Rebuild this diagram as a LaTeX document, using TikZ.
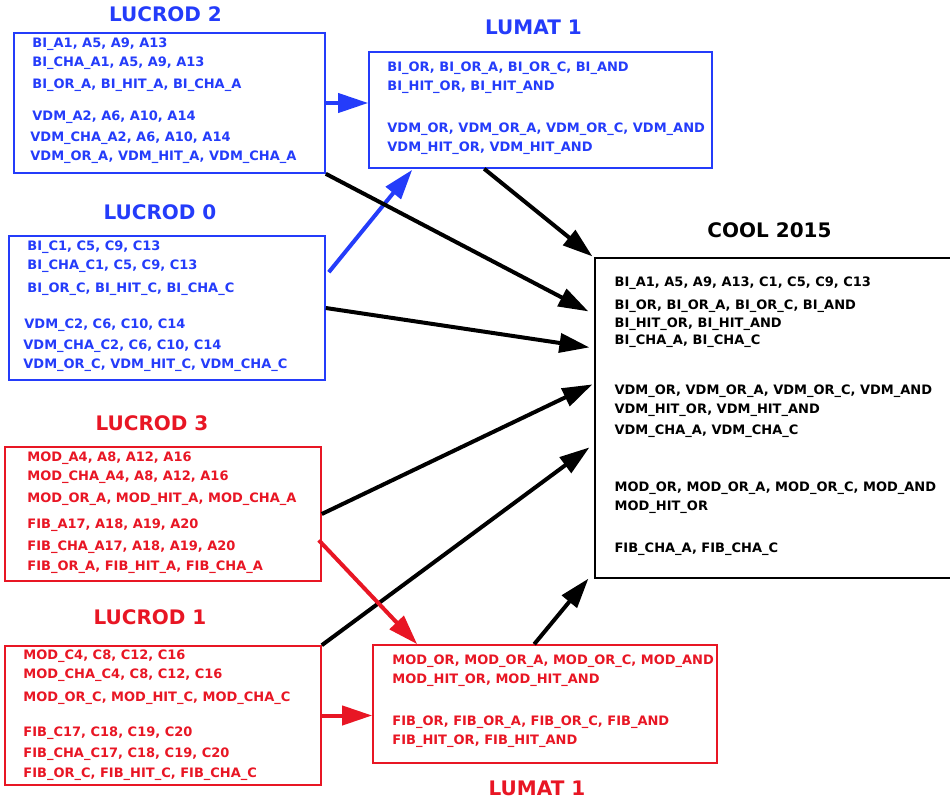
\documentclass[tikz,border=0pt]{standalone}
\usepackage{fontspec}
\setmainfont{DejaVu Sans}
\usetikzlibrary{arrows.meta,positioning,calc}
\definecolor{lublue}{RGB}{36,60,250}
\definecolor{lured}{RGB}{232,22,36}
\begin{document}
\begin{tikzpicture}[x=1pt,y=-1pt,
      font=\bfseries\fontsize{13}{19}\selectfont,
      box/.style={draw,line width=1.6pt,inner sep=0pt},
      bluebox/.style={box,draw=lublue},
      redbox/.style={box,draw=lured},
      coolbox/.style={box,draw=black,line width=1.2pt},
      txt/.style={anchor=north west,align=left,inner sep=0pt},
      title/.style={font=\bfseries\fontsize{20}{24}\selectfont},
      feed/.style={line width=4pt,-{Triangle[length=30pt,width=19pt]}}]
    \useasboundingbox (0,0) rectangle (950,803);
    \node[bluebox,minimum width=311pt,minimum height=140pt] (l2) at (169.5,103) {};
    \node[bluebox,minimum width=343pt,minimum height=116pt] (lm1) at (540.5,110) {};
    \node[bluebox,minimum width=316pt,minimum height=144pt] (l0) at (167,308) {};
    \node[coolbox,minimum width=363pt,minimum height=320pt] (cool) at (776.5,418) {};
    \node[redbox,minimum width=316pt,minimum height=134pt] (l3) at (163,514) {};
    \node[redbox,minimum width=316pt,minimum height=139pt] (l1) at (163,715.5) {};
    \node[redbox,minimum width=344pt,minimum height=118pt] (lm2) at (545,704) {};

    \node[title,text=lublue,above=7pt of l2,xshift=-4pt] (t2) {LUCROD 2};
    \node[title,text=lublue,above=13pt of lm1,xshift=-7pt] (tm1) {LUMAT 1};
    \node[title,text=lublue,above=12pt of l0,xshift=-7pt] (t0) {LUCROD 0};
    \node[title,above=16pt of cool,xshift=-7pt] (tc) {COOL 2015};
    \node[title,text=lured,above=12pt of l3,xshift=-11pt] (t3) {LUCROD 3};
    \node[title,text=lured,above=17pt of l1,xshift=-13pt] (t1) {LUCROD 1};
    \node[title,text=lured,below=14pt of lm2,xshift=-8pt] (tm2) {LUMAT 1};

    \node[txt,text=lublue] (l2t) at ($(l2.north west)+(19,5)$)
      {BI\_A1, A5, A9, A13\\
       BI\_CHA\_A1, A5, A9, A13\\[3pt]
       BI\_OR\_A, BI\_HIT\_A, BI\_CHA\_A\\[13pt]
       VDM\_A2, A6, A10, A14\\[2pt]
       \hspace*{-2pt}VDM\_CHA\_A2, A6, A10, A14\\
       \hspace*{-2pt}VDM\_OR\_A, VDM\_HIT\_A, VDM\_CHA\_A};
    \node[txt,text=lublue] (lm1t) at ($(lm1.north west)+(19,10)$)
      {BI\_OR, BI\_OR\_A, BI\_OR\_C, BI\_AND\\
       BI\_HIT\_OR, BI\_HIT\_AND\\[23pt]
       VDM\_OR, VDM\_OR\_A, VDM\_OR\_C, VDM\_AND\\
       VDM\_HIT\_OR, VDM\_HIT\_AND};
    \node[txt,text=lublue] (l0t) at ($(l0.north west)+(19,5)$)
      {BI\_C1, C5, C9, C13\\
       BI\_CHA\_C1, C5, C9, C13\\[4pt]
       BI\_OR\_C, BI\_HIT\_C, BI\_CHA\_C\\[17pt]
       \hspace*{-3pt}VDM\_C2, C6, C10, C14\\[2pt]
       \hspace*{-4pt}VDM\_CHA\_C2, C6, C10, C14\\
       \hspace*{-4pt}VDM\_OR\_C, VDM\_HIT\_C, VDM\_CHA\_C};
    \node[txt] (coolt) at ($(cool.north west)+(20,19)$)
      {BI\_A1, A5, A9, A13, C1, C5, C9, C13\\[4pt]
       BI\_OR, BI\_OR\_A, BI\_OR\_C, BI\_AND\\[-1pt]
       BI\_HIT\_OR, BI\_HIT\_AND\\[-2pt]
       BI\_CHA\_A, BI\_CHA\_C\\[31pt]
       VDM\_OR, VDM\_OR\_A, VDM\_OR\_C, VDM\_AND\\
       VDM\_HIT\_OR, VDM\_HIT\_AND\\[2pt]
       VDM\_CHA\_A, VDM\_CHA\_C\\[38pt]
       MOD\_OR, MOD\_OR\_A, MOD\_OR\_C, MOD\_AND\\
       MOD\_HIT\_OR\\[23pt]
       FIB\_CHA\_A, FIB\_CHA\_C};
    \node[txt,text=lured] (l3t) at ($(l3.north west)+(23,5)$)
      {MOD\_A4, A8, A12, A16\\
       MOD\_CHA\_A4, A8, A12, A16\\[3pt]
       MOD\_OR\_A, MOD\_HIT\_A, MOD\_CHA\_A\\[7pt]
       FIB\_A17, A18, A19, A20\\[3pt]
       FIB\_CHA\_A17, A18, A19, A20\\[1pt]
       FIB\_OR\_A, FIB\_HIT\_A, FIB\_CHA\_A};
    \node[txt,text=lured] (l1t) at ($(l1.north west)+(19,4)$)
      {MOD\_C4, C8, C12, C16\\
       MOD\_CHA\_C4, C8, C12, C16\\[4pt]
       MOD\_OR\_C, MOD\_HIT\_C, MOD\_CHA\_C\\[16pt]
       FIB\_C17, C18, C19, C20\\[2pt]
       FIB\_CHA\_C17, C18, C19, C20\\[1pt]
       FIB\_OR\_C, FIB\_HIT\_C, FIB\_CHA\_C};
    \node[txt,text=lured] (lm2t) at ($(lm2.north west)+(20,10)$)
      {MOD\_OR, MOD\_OR\_A, MOD\_OR\_C, MOD\_AND\\
       MOD\_HIT\_OR, MOD\_HIT\_AND\\[23pt]
       FIB\_OR, FIB\_OR\_A, FIB\_OR\_C, FIB\_AND\\
       FIB\_HIT\_OR, FIB\_HIT\_AND};

    \draw[feed,draw=lublue,fill=lublue] (l2.east) -- (l2.east -| lm1.west);
    \draw[feed,draw=lublue,fill=lublue] ($(l0.north east)+(3,37)$) -- ($(lm1.south west)+(44,1)$);
    \draw[feed] (l2.south east) -- ($(cool.north west)+(-6,54)$);
    \draw[feed] ($(lm1.south west)+(116,0)$) -- ($(cool.north west)+(-2,-1)$);
    \draw[feed] (l0.east) -- ($(cool.north west)+(-5,90)$);
    \draw[feed] (l3.east) -- ($(cool.north west)+(-2,127)$);
    \draw[feed] (l1.north east) -- ($(cool.north west)+(-5,190)$);
    \draw[feed] ($(lm2.north west)+(162,0)$) -- ($(cool.south west)+(-6,0)$);
    \draw[feed,draw=lured,fill=lured] ($(l3.north east)+(-3,94)$) -- ($(lm2.north west)+(45,0)$);
    \draw[feed,draw=lured,fill=lured] (l1.east) -- (l1.east -| lm2.west);
  \end{tikzpicture}
\end{document}
